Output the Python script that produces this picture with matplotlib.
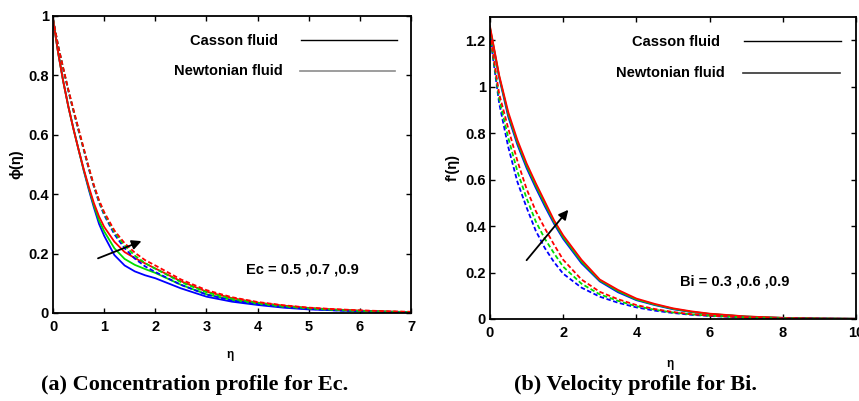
import numpy as np
import matplotlib
matplotlib.use('Agg')
import matplotlib.pyplot as plt

plt.rcParams['font.family'] = ['Liberation Sans', 'DejaVu Sans']
plt.rcParams['font.weight'] = 'bold'

# ---- panel (a): concentration profile, Ec = 0.5, 0.7, 0.9 ----
eta_a = [0, 0.1, 0.2, 0.3, 0.4, 0.5, 0.6, 0.7, 0.8, 0.9, 1.0, 1.2, 1.4, 1.6, 1.8, 2.0,
         2.5, 3.0, 3.5, 4.0, 4.5, 5.0, 5.5, 6.0, 6.5, 7.0]
casson_a_05 = [0.99, 0.877, 0.78, 0.695, 0.62, 0.55, 0.48, 0.415, 0.355, 0.30, 0.26, 0.195,
               0.16, 0.14, 0.127, 0.117, 0.083, 0.055, 0.038, 0.027, 0.018, 0.012, 0.009,
               0.006, 0.004, 0.003]
casson_a_07 = [0.99, 0.877, 0.78, 0.695, 0.62, 0.55, 0.482, 0.42, 0.362, 0.312, 0.275, 0.218,
               0.182, 0.162, 0.148, 0.135, 0.095, 0.063, 0.044, 0.031, 0.021, 0.015, 0.010,
               0.007, 0.004, 0.003]
casson_a_09 = [0.99, 0.877, 0.78, 0.695, 0.62, 0.55, 0.485, 0.425, 0.37, 0.325, 0.29, 0.24,
               0.205, 0.185, 0.167, 0.15, 0.107, 0.072, 0.05, 0.035, 0.025, 0.017, 0.012,
               0.008, 0.005, 0.003]
newton_a_05 = [0.99, 0.9, 0.822, 0.748, 0.68, 0.613, 0.55, 0.485, 0.425, 0.372, 0.33, 0.265,
               0.218, 0.183, 0.157, 0.138, 0.095, 0.062, 0.042, 0.030, 0.020, 0.014, 0.009,
               0.006, 0.004, 0.003]
newton_a_07 = [0.99, 0.9, 0.823, 0.75, 0.682, 0.616, 0.552, 0.488, 0.428, 0.376, 0.335, 0.272,
               0.227, 0.193, 0.168, 0.149, 0.104, 0.07, 0.048, 0.034, 0.023, 0.016, 0.011,
               0.007, 0.005, 0.003]
newton_a_09 = [0.99, 0.9, 0.825, 0.752, 0.685, 0.62, 0.555, 0.49, 0.43, 0.38, 0.34, 0.278,
               0.235, 0.203, 0.178, 0.16, 0.113, 0.077, 0.053, 0.037, 0.026, 0.018, 0.013,
               0.009, 0.006, 0.004]

# ---- panel (b): velocity profile, Bi = 0.3, 0.6, 0.9 ----
eta_b = [0, 0.25, 0.5, 0.75, 1.0, 1.25, 1.5, 1.75, 2.0, 2.5, 3.0, 3.5, 4.0, 4.5,
         5.0, 5.5, 6.0, 7.0, 8.0, 9.0, 10.0]
casson_b_03 = [1.25, 1.04, 0.87, 0.75, 0.65, 0.565, 0.485, 0.41, 0.345, 0.24, 0.162, 0.115,
               0.081, 0.06, 0.042, 0.03, 0.021, 0.010, 0.0045, 0.002, 0.001]
casson_b_06 = [1.255, 1.045, 0.88, 0.76, 0.66, 0.575, 0.495, 0.418, 0.352, 0.247, 0.166, 0.12,
               0.084, 0.062, 0.044, 0.031, 0.022, 0.0105, 0.0048, 0.002, 0.001]
casson_b_09 = [1.26, 1.05, 0.89, 0.77, 0.67, 0.585, 0.505, 0.425, 0.36, 0.255, 0.17, 0.125,
               0.088, 0.065, 0.046, 0.033, 0.023, 0.011, 0.005, 0.002, 0.001]
newton_b_03 = [1.22, 0.93, 0.74, 0.59, 0.48, 0.38, 0.305, 0.245, 0.195, 0.135, 0.096, 0.07,
               0.05, 0.036, 0.026, 0.018, 0.013, 0.006, 0.003, 0.0015, 0.0005]
newton_b_06 = [1.225, 0.95, 0.78, 0.635, 0.52, 0.42, 0.345, 0.283, 0.225, 0.152, 0.106, 0.078,
               0.055, 0.04, 0.028, 0.02, 0.014, 0.0065, 0.003, 0.0015, 0.0005]
newton_b_09 = [1.23, 0.97, 0.82, 0.68, 0.56, 0.465, 0.39, 0.32, 0.255, 0.17, 0.117, 0.085,
               0.06, 0.043, 0.03, 0.021, 0.015, 0.007, 0.003, 0.0015, 0.0005]

colors = ['#0000ff', '#00dd00', '#ff0000']
LW = 1.3
DASH = (0, (2.5, 1.4))

fig = plt.figure(figsize=(8.59, 4.01), dpi=100)
ax1 = fig.add_axes([0.0617, 0.2195, 0.4168, 0.7406])
ax2 = fig.add_axes([0.5704, 0.2045, 0.4261, 0.7531])


def style_axes(ax):
    for sp in ax.spines.values():
        sp.set_linewidth(1.3)
    ax.tick_params(direction='in', top=True, right=True, length=3.5, width=1,
                   labelsize=10.5)
    ax.tick_params(axis='y', pad=3)
    ax.tick_params(axis='x', pad=5)
    for lab in ax.get_xticklabels() + ax.get_yticklabels():
        lab.set_fontweight('bold')


def fake_legend(ax, newton_color):
    ax.text(0.628, 0.916, 'Casson fluid', transform=ax.transAxes, ha='right',
            va='center', fontsize=10.5, fontweight='bold')
    ax.plot([0.694, 0.960], [0.919, 0.919], color='black', lw=1.0,
            transform=ax.transAxes)
    ax.text(0.641, 0.815, 'Newtonian fluid', transform=ax.transAxes, ha='right',
            va='center', fontsize=10.5, fontweight='bold')
    ax.plot([0.690, 0.955], [0.815, 0.815], color=newton_color, lw=1.2,
            transform=ax.transAxes)


# panel (a)
for ys, c in zip([casson_a_05, casson_a_07, casson_a_09], colors):
    ax1.plot(eta_a, ys, color=c, lw=LW)
for ys, c in zip([newton_a_05, newton_a_07, newton_a_09], colors):
    ax1.plot(eta_a, ys, color=c, lw=LW, linestyle=DASH)
ax1.set_xlim(0, 7)
ax1.set_ylim(0, 1)
ax1.set_xticks(range(0, 8))
ax1.set_xticklabels([str(i) for i in range(0, 8)])
ax1.set_yticks([0, 0.2, 0.4, 0.6, 0.8, 1.0])
ax1.set_yticklabels(['0', '0.2', '0.4', '0.6', '0.8', '1'])
style_axes(ax1)
ax1.set_ylabel('ϕ(η)', fontsize=10.5, fontweight='bold')
ax1.yaxis.set_label_coords(-0.084, 0.5)
ax1.set_xlabel('η', fontsize=8.5, fontweight='bold')
ax1.xaxis.set_label_coords(0.494, -0.122)
fake_legend(ax1, '#8c8c8c')
ax1.text(3.77, 0.148, 'Ec = 0.5 ,0.7 ,0.9', ha='left', va='center',
         fontsize=10.5, fontweight='bold')
ax1.annotate('', xy=(1.73, 0.242), xytext=(0.88, 0.184),
             arrowprops=dict(arrowstyle='-|>', color='black', lw=1.3,
                             mutation_scale=14, shrinkA=0, shrinkB=0))

# panel (b)
for ys, c in zip([casson_b_03, casson_b_06, casson_b_09], colors):
    ax2.plot(eta_b, ys, color=c, lw=LW)
for ys, c in zip([newton_b_03, newton_b_06, newton_b_09], colors):
    ax2.plot(eta_b, ys, color=c, lw=LW, linestyle=DASH)
ax2.set_xlim(0, 10)
ax2.set_ylim(0, 1.3)
ax2.set_xticks([0, 2, 4, 6, 8, 10])
ax2.set_xticklabels(['0', '2', '4', '6', '8', '10'])
ax2.set_yticks([0, 0.2, 0.4, 0.6, 0.8, 1.0, 1.2])
ax2.set_yticklabels(['0', '0.2', '0.4', '0.6', '0.8', '1', '1.2'])
style_axes(ax2)
ax2.set_ylabel("f'(η)", fontsize=10.5, fontweight='bold')
ax2.yaxis.set_label_coords(-0.082, 0.5)
ax2.set_xlabel('η', fontsize=8.5, fontweight='bold')
ax2.xaxis.set_label_coords(0.492, -0.128)
fake_legend(ax2, '#333333')
ax2.text(5.19, 0.163, 'Bi = 0.3 ,0.6 ,0.9', ha='left', va='center',
         fontsize=10.5, fontweight='bold')
ax2.annotate('', xy=(2.14, 0.47), xytext=(1.0, 0.253),
             arrowprops=dict(arrowstyle='-|>', color='black', lw=1.3,
                             mutation_scale=14, shrinkA=0, shrinkB=0))

# captions
fig.text(195 / 859, 1 - 385 / 401, '(a) Concentration profile for Ec.',
         ha='center', va='center', fontsize=16, fontweight='bold',
         family='Liberation Serif')
fig.text(635 / 859, 1 - 385 / 401, '(b) Velocity profile for Bi.',
         ha='center', va='center', fontsize=16, fontweight='bold',
         family='Liberation Serif')

fig.savefig('out.png', dpi=100)
